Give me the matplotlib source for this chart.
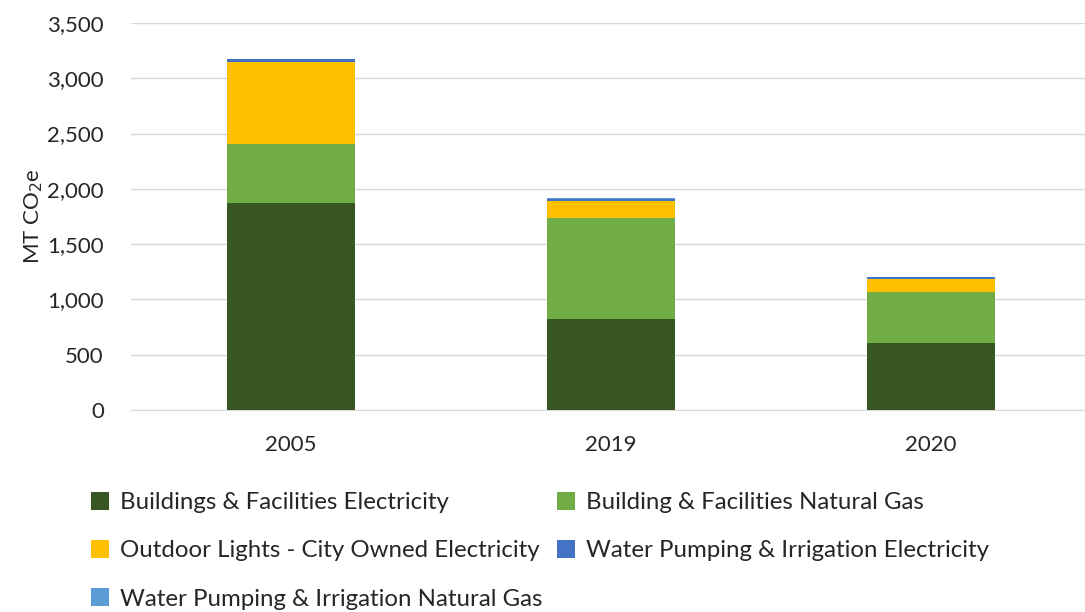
import matplotlib
matplotlib.use("Agg")
import matplotlib.pyplot as plt
from matplotlib.ticker import FuncFormatter
import numpy as np

years = ["2005", "2019", "2020"]
series_names = [
    "Buildings & Facilities Electricity",
    "Building & Facilities Natural Gas",
    "Outdoor Lights - City Owned Electricity",
    "Water Pumping & Irrigation Electricity",
    "Water Pumping & Irrigation Natural Gas",
]
bldg_elec = [1870, 823, 606]
bldg_gas = [535, 913, 461]
lights = [738, 154, 117]
water_elec = [30, 20, 15]
water_gas = [5, 5, 3]
colors = ["#375623", "#70AD47", "#FFC000", "#4472C4", "#5B9BD5"]

plt.rcParams['font.family'] = ['Lato', 'DejaVu Sans']
fig = plt.figure(figsize=(10.85, 6.12), dpi=100)
ax = fig.add_axes([131/1085, 202/612, 960/1085, 387/612])

x = np.arange(len(years))
bottom = np.zeros(len(years))
handles = []
for vals, name, c in zip([bldg_elec, bldg_gas, lights, water_elec, water_gas], series_names, colors):
    b = ax.bar(x, vals, 0.4, bottom=bottom, color=c, label=name, zorder=3)
    handles.append(b)
    bottom += np.array(vals)

ax.set_xlim(-0.5, 2.5)
ax.set_ylim(0, 3500)
ax.set_yticks(np.arange(0, 3501, 500))
ax.yaxis.set_major_formatter(FuncFormatter(lambda v, p: f"{int(v):,}"))
ax.set_xticks(x)
ax.set_xticklabels(years)
ax.grid(axis='y', color='#d9d9d9', linewidth=1, zorder=0)
for s in ['top', 'right', 'left']:
    ax.spines[s].set_visible(False)
ax.spines['bottom'].set_color('#d9d9d9')
ax.tick_params(axis='both', length=0, labelsize=16, colors='#262626')
ax.tick_params(axis='y', pad=19.5)
ax.tick_params(axis='x', pad=18)
ax.set_ylabel("MT CO$_2$e", fontsize=16, color='#262626', labelpad=2)

order = [0, 2, 4, 1, 3]
fig.legend(handles=[handles[i] for i in order], labels=[series_names[i] for i in order],
           ncol=2, loc='upper left',
           bbox_to_anchor=(84/1085, 1 - 485/612), frameon=False, fontsize=17.3,
           handlelength=0.75, handleheight=0.75, columnspacing=0.62, handletextpad=0.45,
           labelspacing=1.12, labelcolor='#262626', borderaxespad=0, borderpad=0.3)

fig.savefig("out.png", dpi=100)
